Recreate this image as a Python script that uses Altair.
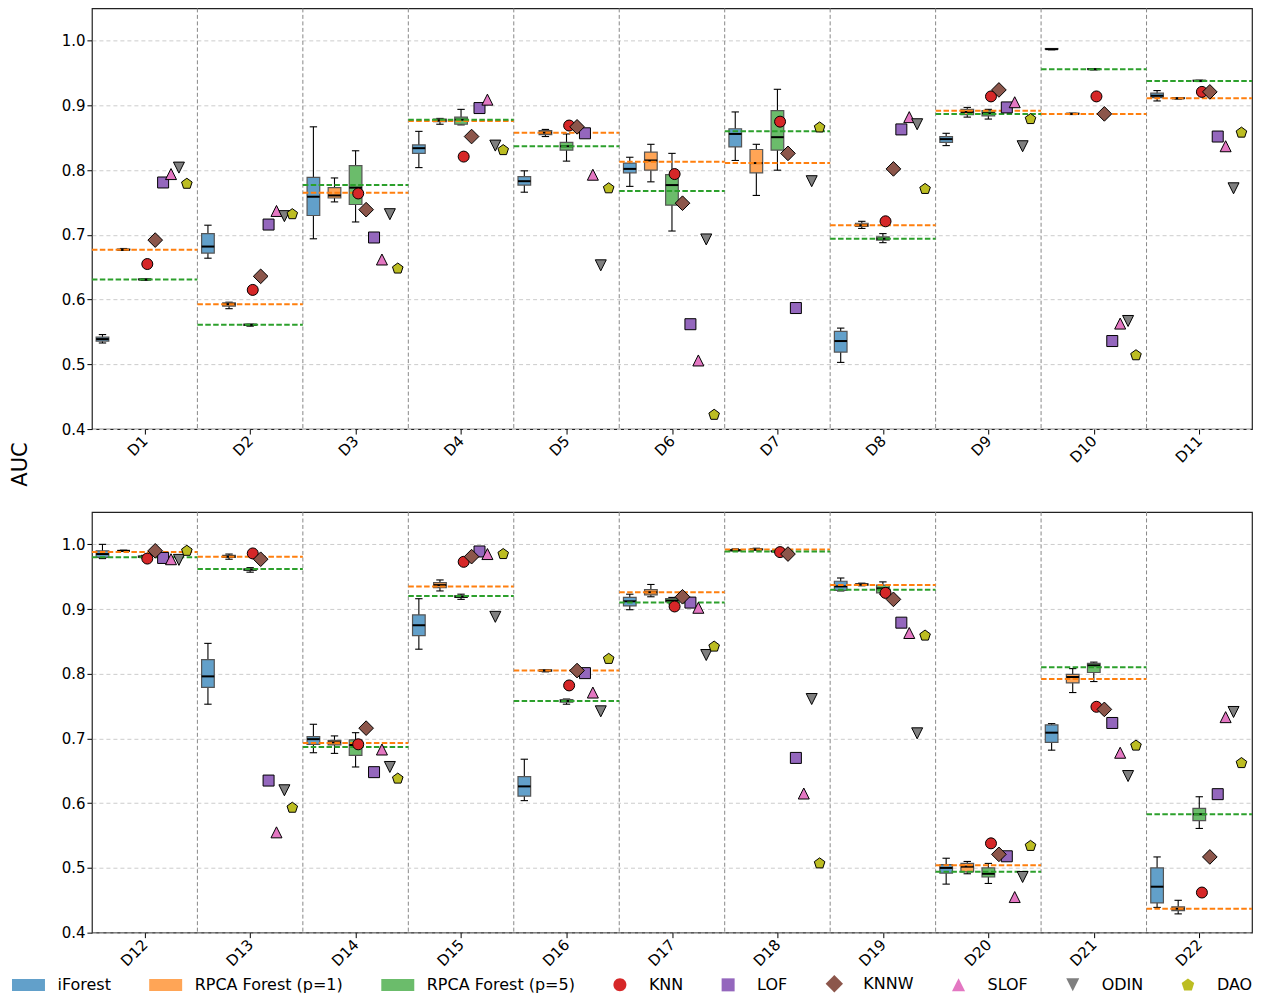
import json
import altair as alt
import pandas as pd

# ---------------- data ----------------
top_datasets = ["D1", "D2", "D3", "D4", "D5", "D6", "D7", "D8", "D9", "D10", "D11"]
bottom_datasets = ["D12", "D13", "D14", "D15", "D16", "D17", "D18", "D19", "D20", "D21", "D22"]
box_methods = ["iForest", "RPCA Forest (p=1)", "RPCA Forest (p=5)"]
point_methods = ["KNN", "LOF", "KNNW", "SLOF", "ODIN", "DAO"]

# [whisker low, q1, median, q3, whisker high] per dataset D1..D22
iforest_stats = [
    [0.533, 0.536, 0.539, 0.542, 0.546], [0.664, 0.672, 0.682, 0.702, 0.715],
    [0.694, 0.730, 0.759, 0.789, 0.867], [0.804, 0.826, 0.834, 0.839, 0.860],
    [0.766, 0.777, 0.783, 0.790, 0.799], [0.775, 0.796, 0.802, 0.811, 0.820],
    [0.815, 0.836, 0.856, 0.864, 0.890], [0.503, 0.519, 0.536, 0.551, 0.556],
    [0.838, 0.843, 0.848, 0.852, 0.857], [0.986, 0.987, 0.987, 0.988, 0.988],
    [0.907, 0.912, 0.915, 0.919, 0.923], [0.978, 0.980, 0.985, 0.990, 1.000],
    [0.753, 0.779, 0.796, 0.822, 0.847], [0.678, 0.691, 0.699, 0.703, 0.722],
    [0.838, 0.859, 0.875, 0.891, 0.916], [0.604, 0.611, 0.626, 0.641, 0.668],
    [0.899, 0.905, 0.912, 0.918, 0.923], [0.990, 0.990, 0.991, 0.992, 0.993],
    [0.928, 0.929, 0.935, 0.943, 0.948], [0.475, 0.492, 0.500, 0.505, 0.515],
    [0.682, 0.694, 0.709, 0.721, 0.723], [0.439, 0.446, 0.471, 0.500, 0.517],
]
rpca1_stats = [
    [0.676, 0.677, 0.677, 0.678, 0.679], [0.586, 0.590, 0.593, 0.595, 0.596],
    [0.751, 0.757, 0.761, 0.773, 0.788], [0.871, 0.875, 0.877, 0.879, 0.880],
    [0.852, 0.855, 0.858, 0.861, 0.863], [0.782, 0.800, 0.815, 0.828, 0.840],
    [0.761, 0.796, 0.811, 0.832, 0.840], [0.710, 0.713, 0.715, 0.718, 0.721],
    [0.882, 0.886, 0.890, 0.894, 0.897], [0.886, 0.887, 0.887, 0.888, 0.888],
    [0.910, 0.911, 0.911, 0.912, 0.912], [0.989, 0.990, 0.990, 0.990, 0.991],
    [0.977, 0.980, 0.981, 0.983, 0.985], [0.677, 0.690, 0.694, 0.697, 0.704],
    [0.928, 0.933, 0.937, 0.941, 0.945], [0.803, 0.804, 0.805, 0.806, 0.806],
    [0.919, 0.922, 0.926, 0.930, 0.938], [0.991, 0.992, 0.992, 0.993, 0.994],
    [0.936, 0.937, 0.938, 0.939, 0.940], [0.491, 0.494, 0.502, 0.507, 0.510],
    [0.771, 0.786, 0.795, 0.799, 0.808], [0.429, 0.434, 0.437, 0.440, 0.450],
]
rpca5_stats = [
    [0.630, 0.631, 0.631, 0.632, 0.632], [0.559, 0.560, 0.561, 0.562, 0.562],
    [0.720, 0.747, 0.773, 0.807, 0.830], [0.870, 0.871, 0.878, 0.882, 0.894],
    [0.814, 0.831, 0.837, 0.843, 0.856], [0.706, 0.746, 0.777, 0.793, 0.826],
    [0.800, 0.831, 0.851, 0.892, 0.925], [0.688, 0.692, 0.694, 0.697, 0.702],
    [0.879, 0.884, 0.888, 0.892, 0.894], [0.955, 0.956, 0.956, 0.957, 0.957],
    [0.937, 0.938, 0.938, 0.939, 0.939], [0.979, 0.980, 0.981, 0.982, 0.983],
    [0.957, 0.960, 0.961, 0.962, 0.964], [0.656, 0.674, 0.690, 0.698, 0.709],
    [0.915, 0.918, 0.919, 0.921, 0.923], [0.753, 0.756, 0.758, 0.760, 0.761],
    [0.908, 0.911, 0.913, 0.916, 0.918], [0.988, 0.989, 0.989, 0.990, 0.990],
    [0.923, 0.925, 0.932, 0.937, 0.942], [0.476, 0.486, 0.491, 0.500, 0.507],
    [0.788, 0.802, 0.813, 0.816, 0.818], [0.561, 0.573, 0.583, 0.592, 0.610],
]
# dashed reference levels of the RPCA forests, D1..D22
rpca1_level = [0.677, 0.593, 0.765, 0.876, 0.858, 0.813, 0.811, 0.715, 0.892, 0.887, 0.911,
               0.988, 0.981, 0.693, 0.935, 0.805, 0.926, 0.992, 0.937, 0.504, 0.792, 0.437]
rpca5_level = [0.631, 0.561, 0.777, 0.878, 0.837, 0.768, 0.860, 0.694, 0.887, 0.956, 0.938,
               0.980, 0.962, 0.687, 0.920, 0.758, 0.910, 0.989, 0.930, 0.494, 0.810, 0.583]

knn = [0.655, 0.615, 0.764, 0.821, 0.869, 0.794, 0.875, 0.721, 0.914, 0.914, 0.921,
       0.978, 0.986, 0.691, 0.973, 0.782, 0.904, 0.988, 0.925, 0.538, 0.749, 0.462]
lof = [0.781, 0.716, 0.696, 0.896, 0.857, 0.562, 0.587, 0.863, 0.897, 0.536, 0.852,
       0.979, 0.635, 0.648, 0.989, 0.801, 0.910, 0.670, 0.879, 0.518, 0.724, 0.614]
knnw = [0.692, 0.636, 0.739, 0.852, 0.867, 0.749, 0.826, 0.802, 0.924, 0.887, 0.921,
        0.990, 0.977, 0.716, 0.981, 0.805, 0.919, 0.985, 0.915, 0.521, 0.745, 0.517]
slof = [0.794, 0.737, 0.662, 0.909, 0.793, 0.506, 0.390, 0.882, 0.905, 0.563, 0.837,
        0.977, 0.555, 0.683, 0.985, 0.771, 0.902, 0.615, 0.863, 0.455, 0.678, 0.733]
odin = [0.804, 0.729, 0.732, 0.838, 0.653, 0.693, 0.783, 0.871, 0.837, 0.567, 0.772,
        0.976, 0.620, 0.656, 0.888, 0.742, 0.829, 0.761, 0.708, 0.486, 0.642, 0.741]
dao = [0.779, 0.732, 0.648, 0.831, 0.772, 0.422, 0.866, 0.771, 0.879, 0.514, 0.858,
       0.990, 0.593, 0.638, 0.985, 0.823, 0.842, 0.507, 0.859, 0.534, 0.689, 0.662]

# ---------------- layout / style constants ----------------
BOX_OFFSET = {"iForest": -0.4, "RPCA Forest (p=1)": -0.2, "RPCA Forest (p=5)": 0.0}
POINT_OFFSET = {"KNN": 0.025, "KNNW": 0.1, "LOF": 0.175, "SLOF": 0.25, "ODIN": 0.325, "DAO": 0.4}
BOX_HALF = 0.06
CAP_HALF = 0.035

all_methods = box_methods + point_methods
colors = ["#62a0ca", "#ffa556", "#6bbc6b", "#d62728", "#9467bd", "#8c564b",
          "#e377c2", "#7f7f7f", "#bcbd22"]
# symbol paths drawn in a 14px legend frame (7 px per unit)
u = 0.93
rect_path = "M-2.357,-0.857H2.357V0.857H-2.357Z"
shapes = [
    rect_path, rect_path, rect_path,
    f"M{u},0A{u},{u} 0 1,1 -{u},0A{u},{u} 0 1,1 {u},0Z",
    f"M-{u},-{u}H{u}V{u}H-{u}Z",
    "M0,-1.24L1.24,0L0,1.24L-1.24,0Z",
    f"M0,-{u}L{u},{u}L-{u},{u}Z",
    f"M0,{u}L{u},-{u}L-{u},-{u}Z",
    "M0,-0.94L0.894,-0.29L0.553,0.76L-0.553,0.76L-0.894,-0.29Z",
]
color_scale = alt.Scale(domain=all_methods, range=colors)
shape_scale = alt.Scale(domain=all_methods, range=shapes)
y_scale = alt.Scale(domain=[0.4, 1.05], nice=False, zero=False)

point_values = {"KNN": knn, "LOF": lof, "KNNW": knnw, "SLOF": slof, "ODIN": odin, "DAO": dao}
box_values = {"iForest": iforest_stats, "RPCA Forest (p=1)": rpca1_stats,
              "RPCA Forest (p=5)": rpca5_stats}


def panel(names, start, show_title):
    n = len(names)
    box_rows, point_rows, level_rows = [], [], []
    for i in range(n):
        k = start + i
        for m in box_methods:
            lo, q1, med, q3, hi = box_values[m][k]
            x = i + BOX_OFFSET[m]
            box_rows.append(dict(method=m, x=x, xl=x - BOX_HALF, xr=x + BOX_HALF,
                                 cl=x - CAP_HALF, cr=x + CAP_HALF,
                                 lo=lo, q1=q1, med=med, q3=q3, hi=hi))
        for m in point_methods:
            point_rows.append(dict(method=m, x=i + POINT_OFFSET[m], v=point_values[m][k]))
        level_rows.append(dict(xa=i - 0.5, xb=i + 0.5, p1=rpca1_level[k], p5=rpca5_level[k]))
    box_df = pd.DataFrame(box_rows)
    pt_df = pd.DataFrame(point_rows)
    lvl_df = pd.DataFrame(level_rows)
    sep_df = pd.DataFrame({"b": [i + 0.5 for i in range(n - 1)]})

    x_scale = alt.Scale(domain=[-0.5, n - 0.5], nice=False, zero=False)
    x_axis = alt.Axis(values=list(range(n)), labelExpr=f"{json.dumps(names)}[datum.value]",
                      labelAngle=315, labelAlign="right", labelBaseline="middle",
                      labelPadding=4, grid=False, domain=False, title=None,
                      tickSize=5, labelFontSize=15)
    y_axis_kw = dict(values=[0.4, 0.5, 0.6, 0.7, 0.8, 0.9, 1.0], format=".1f",
                     grid=True, gridDash=[4, 3], gridColor="#cccccc", domain=False,
                     tickSize=5, labelFontSize=15)
    if show_title:
        y_axis = alt.Axis(title="AUC", titleFontSize=21, titleFontWeight="normal",
                          titleX=-65, titleY=456, titleAngle=270, titleAlign="center",
                          titleBaseline="alphabetic", **y_axis_kw)
    else:
        y_axis = alt.Axis(title=None, **y_axis_kw)

    X = lambda f: alt.X(f, type="quantitative", scale=x_scale, axis=x_axis)

    seps = alt.Chart(sep_df).mark_rule(color="#888888", strokeDash=[4, 2.5], strokeWidth=1).encode(
        x=X("b"))

    whisk = alt.Chart(box_df).mark_rule(color="black", strokeWidth=1.1).encode(
        x=X("x"), y=alt.Y("lo:Q", scale=y_scale, axis=y_axis), y2="hi:Q")
    cap_lo = alt.Chart(box_df).mark_rule(color="black", strokeWidth=1.1).encode(
        x=X("cl"), x2="cr:Q", y=alt.Y("lo:Q", scale=y_scale))
    cap_hi = alt.Chart(box_df).mark_rule(color="black", strokeWidth=1.1).encode(
        x=X("cl"), x2="cr:Q", y=alt.Y("hi:Q", scale=y_scale))
    boxes = alt.Chart(box_df).mark_rect(stroke="#555555", strokeWidth=1.2).encode(
        x=X("xl"), x2="xr:Q", y=alt.Y("q1:Q", scale=y_scale), y2="q3:Q",
        color=alt.Color("method:N", scale=color_scale, title=None))
    med = alt.Chart(box_df).mark_rule(color="black", strokeWidth=2).encode(
        x=X("xl"), x2="xr:Q", y=alt.Y("med:Q", scale=y_scale))

    lvl1 = alt.Chart(lvl_df).mark_rule(color="#ff7f0e", strokeWidth=2, strokeDash=[5.5, 2.4]).encode(
        x=X("xa"), x2="xb:Q", y=alt.Y("p1:Q", scale=y_scale))
    lvl5 = alt.Chart(lvl_df).mark_rule(color="#2ca02c", strokeWidth=2, strokeDash=[5.5, 2.4]).encode(
        x=X("xa"), x2="xb:Q", y=alt.Y("p5:Q", scale=y_scale))

    pts = alt.Chart(pt_df).mark_point(filled=True, size=140, stroke="black", strokeWidth=1,
                                      opacity=1, clip=True).encode(
        x=X("x"), y=alt.Y("v:Q", scale=y_scale),
        color=alt.Color("method:N", scale=color_scale, title=None),
        shape=alt.Shape("method:N", scale=shape_scale, title=None))

    return alt.layer(whisk, seps, cap_lo, cap_hi, boxes, med, lvl1, lvl5, pts).properties(
        width=1161, height=421)


top = panel(top_datasets, 0, True)
bottom = panel(bottom_datasets, 11, False)

chart = alt.VConcatChart(vconcat=[top, bottom], spacing=83, bounds="flush").properties(
    padding={"left": 1, "top": -2, "right": 0, "bottom": 0}
).configure(
    font="DejaVu Sans"
).configure_view(
    stroke="#222222", strokeWidth=1.2
).configure_axis(
    labelColor="black", tickColor="black", titleColor="black", labelFont="DejaVu Sans",
    titleFont="DejaVu Sans"
).configure_legend(
    orient="none", legendX=-71.5, legendY=968, direction="horizontal", columns=9,
    symbolSize=196, labelFontSize=16, labelOffset=21, columnPadding=35.3,
    symbolStrokeColor="#333333", symbolStrokeWidth=1, symbolOpacity=1,
    labelLimit=400, labelColor="black", labelFont="DejaVu Sans"
)

chart.save("out.html", embed_options={"renderer": "svg", "actions": False})
